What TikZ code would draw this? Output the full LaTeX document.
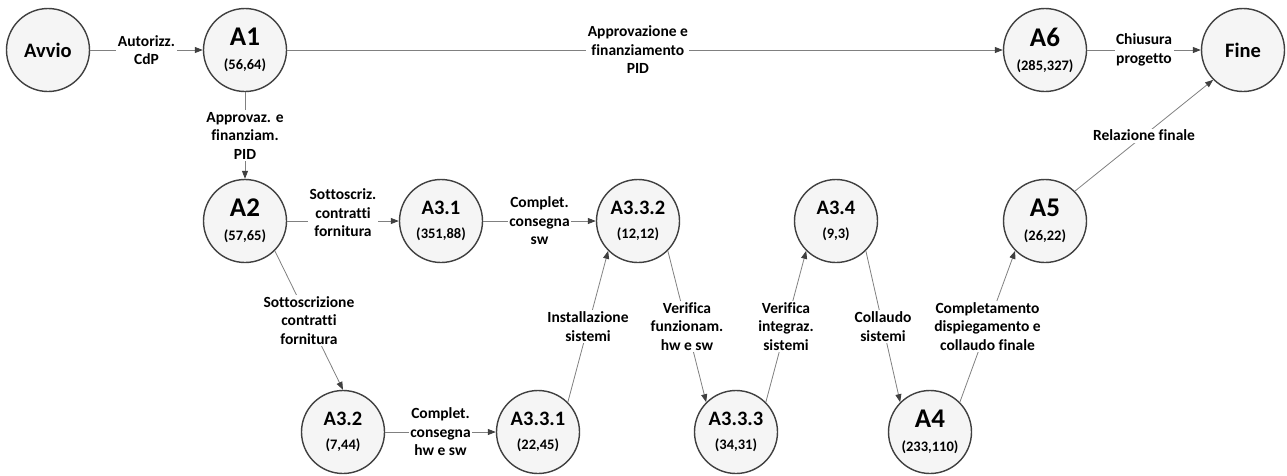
\documentclass[tikz,border=0pt]{standalone}
\usepackage{fontspec}
\setmainfont{Carlito}[Ligatures=NoCommon]
\usepackage{tikz}
\usetikzlibrary{positioning, arrows.meta}
\newcommand{\bigid}{\fontsize{27}{30}\selectfont}
\newcommand{\midid}{\fontsize{20.5}{24}\selectfont}
\newcommand{\labfont}{\fontsize{15.5}{18.5}\selectfont\bfseries}
\tikzset{
    ->, % every connector is an arrow
    >={Triangle[length=8pt, width=6pt, color=black!75]}, % small filled tips
    event/.style={circle, draw=black!75, line width=1.4pt, fill=black!4,
        minimum size=83pt, inner sep=0pt, align=center,
        font=\bfseries\fontsize{14.5}{24}\selectfont}, % the milestones
    act/.style={fill=white, inner sep=1.5pt, align=center, font=\labfont}, % text on a connector
    flow/.style={draw=black!50, line width=0.8pt}, % grey connector line
    node distance=197pt, % one column of the plan
    on grid,
}
\begin{document}
\begin{tikzpicture}
    \node[event] (avvio) {\midid Avvio};
    \useasboundingbox ([shift={(-48pt,50pt)}]avvio.center) rectangle ([shift={(1239pt,-425pt)}]avvio.center);
    \node[event, right=of avvio] (a1) {{\bigid A1}\\(56,64)};
    \node[event, below=171pt of a1] (a2) {{\bigid A2}\\(57,65)};
    \node[event, right=196pt of a2] (a31) {{\midid A3.1}\\(351,88)};
    \node[event, right=of a31] (a332) {{\midid A3.3.2}\\(12,12)};
    \node[event, right=198pt of a332] (a34) {{\midid A3.4}\\(9,3)};
    \node[event, right=209pt of a34] (a5) {{\bigid A5}\\(26,22)};
    \node[event, above=171pt of a5] (a6) {{\bigid A6}\\(285,327)};
    \node[event, right=198pt of a6] (fine) {\midid Fine};
    \node[event, below right=211pt and 98pt of a2] (a32) {{\midid A3.2}\\(7,44)};
    \node[event, right=195pt of a32] (a331) {{\midid A3.3.1}\\(22,45)};
    \node[event, right=198pt of a331] (a333) {{\midid A3.3.3}\\(34,31)};
    \node[event, right=194pt of a333] (a4) {{\bigid A4}\\(233,110)};

    \draw[flow] (avvio) -- node[act]{Autorizz.\\CdP} (a1);
    \draw[flow] (a1) -- node[act, pos=0.49]{Approvazione e\\finanziamento\\PID} (a6);
    \draw[flow] (a1) -- node[act]{Approvaz. e\\finanziam.\\PID} (a2);
    \draw[flow] (a2) -- node[act, yshift=8pt]{Sottoscriz.\\contratti\\fornitura} (a31);
    \draw[flow] (a2.south east) -- node[act]{Sottoscrizione\\contratti\\fornitura} (a32.north);
    \draw[flow] (a31) -- node[act]{Complet.\\consegna\\sw} (a332);
    \draw[flow] (a32) -- node[act]{Complet.\\consegna\\hw e sw} (a331);
    \draw[flow] (a331.north east) -- node[act]{Installazione\\sistemi} (a332.south west);
    \draw[flow] (a332.south east) -- node[act]{Verifica\\funzionam.\\hw e sw} (a333.north west);
    \draw[flow] (a333.north east) -- node[act]{Verifica\\integraz.\\sistemi} (a34.south west);
    \draw[flow] (a34.south east) -- node[act]{Collaudo\\sistemi} (a4.north west);
    \draw[flow] (a4.north east) -- node[act]{Completamento\\dispiegamento e\\collaudo finale} (a5.south west);
    \draw[flow] (a5.north east) -- node[act]{Relazione finale} (fine.south west);
    \draw[flow] (a6) -- node[act]{Chiusura\\progetto} (fine);
\end{tikzpicture}
\end{document}
